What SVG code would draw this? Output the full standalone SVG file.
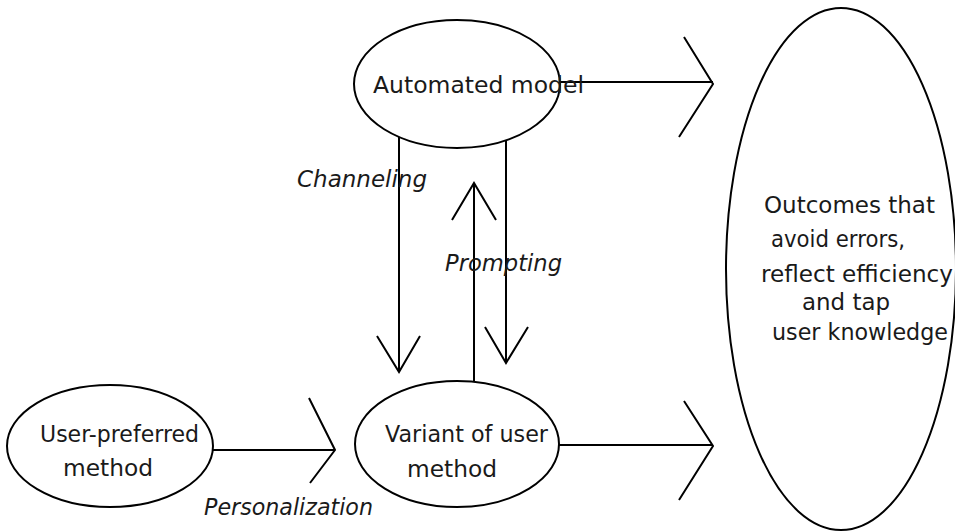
<svg xmlns="http://www.w3.org/2000/svg" width="955" height="531" viewBox="0 0 955 531">
  <style>
    .shape { fill: #ffffff; stroke: #000000; stroke-width: 2; }
    .wire { fill: none; stroke: #000000; stroke-width: 2; stroke-linejoin: miter; }
    .label { font-family: "DejaVu Sans", "Liberation Sans", sans-serif; font-size: 23px; fill: #1a1a1a; }
    .edge { font-family: "DejaVu Sans", "Liberation Sans", sans-serif; font-size: 23px; font-style: italic; fill: #1a1a1a; }
  </style>
  <rect width="955" height="531" fill="#ffffff"/>

  <!-- Nodes -->
  <g id="node-outcomes">
    <ellipse class="shape" cx="841" cy="269" rx="115" ry="261"/>
    <text class="label" x="764" y="213" textLength="171" lengthAdjust="spacingAndGlyphs">Outcomes that</text>
    <text class="label" x="771" y="247" textLength="134" lengthAdjust="spacingAndGlyphs">avoid errors,</text>
    <text class="label" x="761" y="282" textLength="192" lengthAdjust="spacingAndGlyphs">reflect efficiency</text>
    <text class="label" x="802" y="310" textLength="88" lengthAdjust="spacingAndGlyphs">and tap</text>
    <text class="label" x="772" y="340" textLength="176" lengthAdjust="spacingAndGlyphs">user knowledge</text>
  </g>

  <g id="node-automated">
    <ellipse class="shape" cx="457" cy="84" rx="103" ry="64"/>
  </g>

  <g id="node-user">
    <ellipse class="shape" cx="110" cy="446" rx="103" ry="61"/>
    <text class="label" x="40" y="442" textLength="159" lengthAdjust="spacingAndGlyphs">User-preferred</text>
    <text class="label" x="63" y="476" textLength="90" lengthAdjust="spacingAndGlyphs">method</text>
  </g>

  <g id="node-variant">
    <ellipse class="shape" cx="457" cy="444" rx="102" ry="63"/>
    <text class="label" x="385" y="442" textLength="163" lengthAdjust="spacingAndGlyphs">Variant of user</text>
    <text class="label" x="407" y="477" textLength="90" lengthAdjust="spacingAndGlyphs">method</text>
  </g>

  <!-- Connectors: straight shafts with open chevron heads -->
  <g id="connectors">
    <!-- Automated model to outcomes -->
    <line class="wire" x1="560" y1="82" x2="713" y2="82"/>
    <polyline class="wire" points="684,37 713,84 679,137"/>
    <!-- Variant to outcomes -->
    <line class="wire" x1="559" y1="445" x2="713" y2="445"/>
    <polyline class="wire" points="684,401 713,446 679,500"/>
    <!-- Personalization -->
    <line class="wire" x1="213" y1="450" x2="335" y2="450"/>
    <polyline class="wire" points="309,398 335,450 310,483"/>
    <!-- Channeling -->
    <line class="wire" x1="399" y1="137" x2="399" y2="372"/>
    <polyline class="wire" points="377,336 399,372 420,336"/>
    <!-- Prompting (down) -->
    <line class="wire" x1="506" y1="141" x2="506" y2="363"/>
    <polyline class="wire" points="485,327 506,363 528,327"/>
    <!-- Variant back up to automated model -->
    <line class="wire" x1="474" y1="382" x2="474" y2="183"/>
    <polyline class="wire" points="452,220 474,183 496,220"/>
  </g>

  <!-- Labels drawn over the shafts -->
  <text class="label" x="373" y="93" textLength="211" lengthAdjust="spacingAndGlyphs">Automated model</text>
  <text class="edge" x="297" y="187" textLength="130" lengthAdjust="spacingAndGlyphs">Channeling</text>
  <text class="edge" x="445" y="271" textLength="117" lengthAdjust="spacingAndGlyphs">Prompting</text>
  <text class="edge" x="204" y="515" textLength="169" lengthAdjust="spacingAndGlyphs">Personalization</text>
</svg>
